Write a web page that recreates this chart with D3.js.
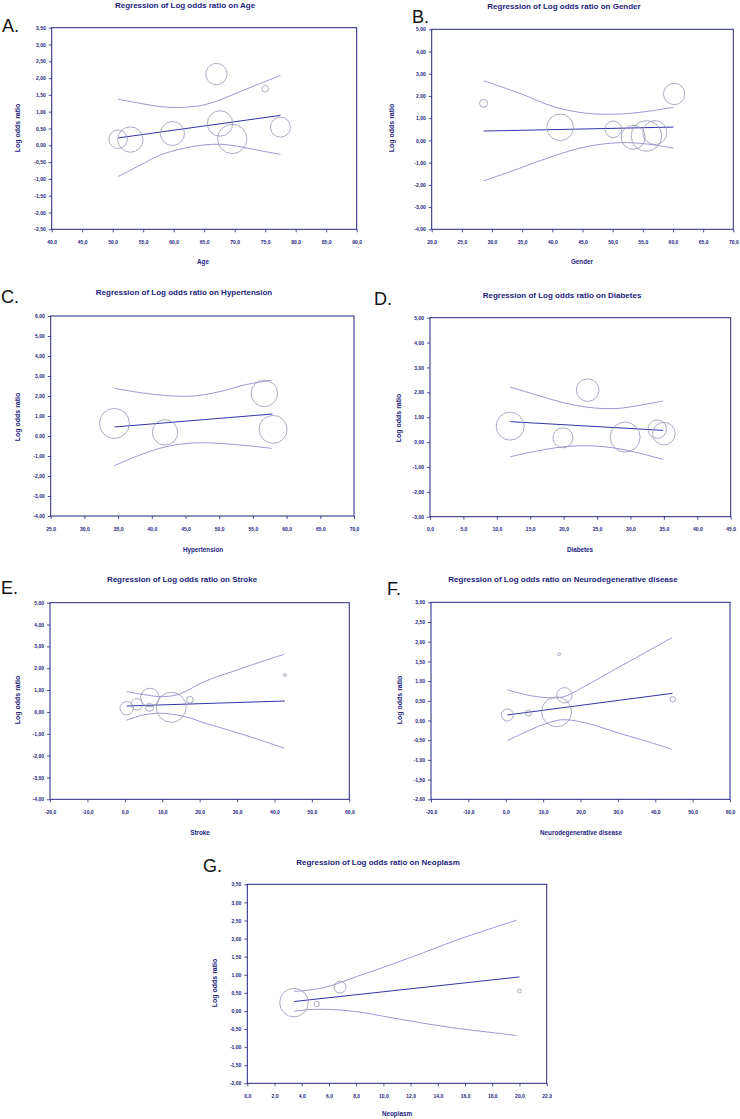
<!DOCTYPE html>
<html><head><meta charset="utf-8">
<script src="https://cdn.jsdelivr.net/npm/d3@7"></script>
<style>body{margin:0;background:#fff}svg{display:block}</style>
</head><body><svg id="c" width="740" height="1119"></svg>
<script>
// ---------- DATA ----------
// A. Age
const ageX = [50.9, 52.9, 59.8, 67.0, 67.6, 69.6, 75.0, 77.5];
const ageY = [0.18, 0.17, 0.35, 2.12, 0.65, 0.19, 1.68, 0.54];
const ageW = [86, 161, 144, 114, 161, 216, 11, 100];
const ageFitX = [50.9, 77.5], ageFitY = [0.22, 0.89];
const ageCiX  = [50.9, 54.5, 57.8, 61.6, 64.9, 67.6, 70.9, 74.2, 77.5];
const ageCiUp = [1.37, 1.25, 1.15, 1.13, 1.20, 1.35, 1.60, 1.84, 2.08];
const ageCiLo = [-0.93, -0.59, -0.29, -0.09, 0.01, 0.03, -0.04, -0.16, -0.27];
const ageXTicks = [40,45,50,55,60,65,70,75,80,85,90];
const ageYTicks = [-2.5,-2,-1.5,-1,-0.5,0,0.5,1,1.5,2,2.5,3,3.5];
// B. Gender
const genX = [28.6, 41.3, 50.1, 53.4, 55.6, 57.0, 60.2];
const genY = [1.67, 0.59, 0.50, 0.14, 0.20, 0.35, 2.09];
const genW = [16, 177, 69, 144, 234, 144, 114];
const genFitX = [28.6, 60.1], genFitY = [0.42, 0.60];
const genCiX  = [28.6, 34.6, 40.2, 45.7, 51.2, 55.6, 60.1];
const genCiUp = [2.68, 2.12, 1.52, 1.22, 1.19, 1.30, 1.49];
const genCiLo = [-1.82, -1.25, -0.70, -0.28, -0.10, -0.16, -0.35];
const genXTicks = [20,25,30,35,40,45,50,55,60,65,70];
const genYTicks = [-4,-3,-2,-1,0,1,2,3,4,5];
// C. Hypertension
const hypX = [34.45, 41.96, 56.7, 58.0];
const hypY = [0.63, 0.18, 2.13, 0.33];
const hypW = [225, 161, 177, 196];
const hypFitX = [34.45, 57.9], hypFitY = [0.45, 1.10];
const hypCiX  = [34.45, 38.25, 42.2, 46.2, 50.1, 54.1, 57.8];
const hypCiUp = [2.38, 2.17, 2.02, 2.00, 2.22, 2.58, 2.78];
const hypCiLo = [-1.48, -0.95, -0.53, -0.35, -0.37, -0.48, -0.62];
const hypXTicks = [25,30,35,40,45,50,55,60,65,70];
const hypYTicks = [-4,-3,-2,-1,0,1,2,3,4,5,6];
// D. Diabetes
const diaX = [12.0, 19.9, 23.6, 29.2, 34.0, 35.0];
const diaY = [0.64, 0.17, 2.09, 0.20, 0.52, 0.34];
const diaW = [196, 100, 128, 225, 86, 128];
const diaFitX = [12.0, 34.9], diaFitY = [0.82, 0.47];
const diaCiX  = [12.0, 16.0, 20.0, 23.9, 27.9, 31.4, 34.9];
const diaCiUp = [2.21, 1.89, 1.58, 1.39, 1.35, 1.48, 1.65];
const diaCiLo = [-0.59, -0.36, -0.19, -0.15, -0.25, -0.45, -0.70];
const diaXTicks = [0,5,10,15,20,25,30,35,40,45];
const diaYTicks = [-3,-2,-1,0,1,2,3,4,5];
// E. Stroke
const strX = [0.5, 3.2, 6.7, 6.6, 12.4, 17.4, 42.8];
const strY = [0.17, 0.35, 0.66, 0.21, 0.21, 0.56, 1.69];
const strW = [45, 32, 86, 16, 225, 11, 2];
const strFitX = [0.5, 42.8], strFitY = [0.27, 0.50];
const strCiX  = [0.5, 4.9, 9.4, 13.9, 17.5, 20.1, 24.5, 29.0, 33.4, 42.6];
const strCiUp = [0.93, 0.80, 0.70, 0.78, 1.05, 1.30, 1.60, 1.86, 2.12, 2.64];
const strCiLo = [-0.38, -0.14, -0.06, -0.14, -0.28, -0.44, -0.67, -0.90, -1.13, -1.66];
const strXTicks = [-20,-10,0,10,20,30,40,50,60];
const strYTicks = [-4,-3,-2,-1,0,1,2,3,4,5];
// F. Neurodegenerative disease
const neuX = [0.43, 6.05, 13.6, 15.7, 14.3, 44.7];
const neuY = [0.14, 0.19, 0.22, 0.64, 1.68, 0.54];
const neuW = [36, 9, 225, 59, 2, 7];
const neuFitX = [0.43, 44.6], neuFitY = [0.14, 0.69];
const neuCiX  = [0.43, 5.6, 10.95, 15.4, 21.7, 30.6, 39.5, 44.4];
const neuCiUp = [0.78, 0.65, 0.58, 0.60, 0.90, 1.37, 1.84, 2.10];
const neuCiLo = [-0.51, -0.28, -0.07, 0.02, -0.07, -0.33, -0.58, -0.73];
const neuXTicks = [-20,-10,0,10,20,30,40,50,60];
const neuYTicks = [-2,-1.5,-1,-0.5,0,0.5,1,1.5,2,2.5,3];
// G. Neoplasm
const neoX = [3.43, 5.1, 6.81, 20.0];
const neoY = [0.23, 0.19, 0.66, 0.55];
const neoW = [204, 7, 36, 4];
const neoFitX = [3.43, 20.0], neoFitY = [0.26, 0.94];
const neoCiX  = [3.43, 4.61, 6.08, 8.04, 10.49, 12.94, 15.39, 17.6, 19.8];
const neoCiUp = [0.54, 0.58, 0.69, 0.95, 1.27, 1.61, 1.96, 2.24, 2.51];
const neoCiLo = [-0.01, 0.04, 0.04, -0.02, -0.18, -0.34, -0.48, -0.58, -0.68];
const neoXTicks = [0,2,4,6,8,10,12,14,16,18,20,22];
const neoYTicks = [-2,-1.5,-1,-0.5,0,0.5,1,1.5,2,2.5,3,3.5];

// ---------- STYLE / LAYOUT ----------
const NAVY = "#23237e", FIT = "#3434a6", CI = "#8c8cd0", CIRC = "#9696b6";
const loc = d3.formatLocale({decimal: ",", thousands: ".", grouping: [3], currency: ["", ""], minus: "-"});
const fmtY = loc.format(".2f"), fmtX = loc.format(".1f");
const rScale = d3.scaleSqrt().domain([0, 225]).range([0, 15]);
const svg = d3.select("#c");
svg.append("rect").attr("width", 740).attr("height", 1119).attr("fill", "#fff");

const panels = [
  {letter:"A.", lx:2, ly:31.5, name:"Age", frame:[51.7,356.7,27.7,229.3], xd:[40,90], yd:[-2.5,3.5],
   tY:8, tX:185, xlX:203, xlY:264, ylX:17, ylY:128,
   px:ageX, py:ageY, pw:ageW, fx:ageFitX, fy:ageFitY, cx:ageCiX, cu:ageCiUp, cl:ageCiLo, xt:ageXTicks, yt:ageYTicks},
  {letter:"B.", lx:412, ly:22.5, name:"Gender", frame:[431.7,733.3,29.3,229.3], xd:[20,70], yd:[-4,5],
   tY:8.5, tX:564, xlX:582, xlY:264, ylX:391, ylY:128,
   px:genX, py:genY, pw:genW, fx:genFitX, fy:genFitY, cx:genCiX, cu:genCiUp, cl:genCiLo, xt:genXTicks, yt:genYTicks},
  {letter:"C.", lx:1, ly:303, name:"Hypertension", frame:[50.7,354,316,516], xd:[25,70], yd:[-4,6],
   tY:295, tX:184, xlX:203, xlY:551.5, ylX:17, ylY:417,
   px:hypX, py:hypY, pw:hypW, fx:hypFitX, fy:hypFitY, cx:hypCiX, cu:hypCiUp, cl:hypCiLo, xt:hypXTicks, yt:hypYTicks},
  {letter:"D.", lx:374, ly:305, name:"Diabetes", frame:[430,730.7,317.7,516.7], xd:[0,45], yd:[-3,5],
   tY:298, tX:562, xlX:580, xlY:551.5, ylX:398, ylY:418,
   px:diaX, py:diaY, pw:diaW, fx:diaFitX, fy:diaFitY, cx:diaCiX, cu:diaCiUp, cl:diaCiLo, xt:diaXTicks, yt:diaYTicks},
  {letter:"E.", lx:1, ly:594, name:"Stroke", frame:[50,349.3,602.7,799.3], xd:[-20,60], yd:[-4,5],
   tY:582, tX:182, xlX:200, xlY:834.5, ylX:17, ylY:700,
   px:strX, py:strY, pw:strW, fx:strFitX, fy:strFitY, cx:strCiX, cu:strCiUp, cl:strCiLo, xt:strXTicks, yt:strYTicks},
  {letter:"F.", lx:387, ly:595, name:"Neurodegenerative disease", frame:[431,730,602.3,799.3], xd:[-20,60], yd:[-2,3],
   tY:582, tX:563, xlX:581, xlY:834.5, ylX:399, ylY:700,
   px:neuX, py:neuY, pw:neuW, fx:neuFitX, fy:neuFitY, cx:neuCiX, cu:neuCiUp, cl:neuCiLo, xt:neuXTicks, yt:neuYTicks},
  {letter:"G.", lx:203, ly:871.5, name:"Neoplasm", frame:[247.3,546.7,884.3,1083.3], xd:[0,22], yd:[-2,3.5],
   tY:865, tX:378, xlX:397, xlY:1116, ylX:214, ylY:983,
   px:neoX, py:neoY, pw:neoW, fx:neoFitX, fy:neoFitY, cx:neoCiX, cu:neoCiUp, cl:neoCiLo, xt:neoXTicks, yt:neoYTicks}
];

panels.forEach(p => {
  const [L, R, T, B] = p.frame;
  const x = d3.scaleLinear().domain(p.xd).range([L, R]);
  const y = d3.scaleLinear().domain(p.yd).range([B, T]);
  const g = svg.append("g");

  const gx = g.append("g").attr("transform", `translate(0,${B})`)
    .call(d3.axisBottom(x).tickValues(p.xt).tickSize(3).tickPadding(8).tickFormat(fmtX));
  const gy = g.append("g").attr("transform", `translate(${L},0)`)
    .call(d3.axisLeft(y).tickValues(p.yt).tickSize(3).tickPadding(3).tickFormat(fmtY));
  [gx, gy].forEach(a => {
    a.select(".domain").remove();
    a.selectAll(".tick line").attr("stroke", NAVY).attr("stroke-width", 0.8);
    a.selectAll(".tick text").attr("fill", NAVY).attr("font-family", "Liberation Sans, Arial, sans-serif")
      .attr("font-size", 5).attr("font-weight", "bold");
  });

  g.append("rect").attr("x", L).attr("y", T).attr("width", R - L).attr("height", B - T)
    .attr("fill", "none").attr("stroke", NAVY).attr("stroke-width", 1);

  const line = d3.line().x(d => x(d[0])).y(d => y(d[1])).curve(d3.curveCatmullRom);
  g.append("path").datum(p.cx.map((v, i) => [v, p.cu[i]])).attr("d", line)
    .attr("fill", "none").attr("stroke", CI).attr("stroke-width", 0.9);
  g.append("path").datum(p.cx.map((v, i) => [v, p.cl[i]])).attr("d", line)
    .attr("fill", "none").attr("stroke", CI).attr("stroke-width", 0.9);
  g.append("line").attr("x1", x(p.fx[0])).attr("x2", x(p.fx[1]))
    .attr("y1", y(p.fy[0])).attr("y2", y(p.fy[1]))
    .attr("stroke", FIT).attr("stroke-width", 1);

  g.selectAll("circle.pt").data(p.px.map((v, i) => ({x: v, y: p.py[i], w: p.pw[i]})))
    .join("circle").attr("class", "pt")
    .attr("cx", d => x(d.x)).attr("cy", d => y(d.y)).attr("r", d => rScale(d.w))
    .attr("fill", "none").attr("stroke", CIRC).attr("stroke-width", 0.8);

  const font = "Liberation Sans, Arial, sans-serif";
  g.append("text").attr("x", p.tX).attr("y", p.tY).attr("text-anchor", "middle")
    .attr("font-family", font).attr("font-weight", "bold").attr("font-size", 8).attr("fill", NAVY)
    .text("Regression of Log odds ratio on " + p.name);
  g.append("text").attr("x", p.xlX).attr("y", p.xlY).attr("text-anchor", "middle")
    .attr("font-family", font).attr("font-weight", "bold").attr("font-size", 6.3).attr("fill", NAVY)
    .text(p.name);
  g.append("text").attr("transform", `translate(${p.ylX + 2.5},${p.ylY}) rotate(-90)`).attr("text-anchor", "middle")
    .attr("font-family", font).attr("font-weight", "bold").attr("font-size", 7).attr("fill", NAVY)
    .text("Log odds ratio");
  g.append("text").attr("x", p.lx).attr("y", p.ly)
    .attr("font-family", "Liberation Sans, Arial, sans-serif").attr("font-size", 18).attr("fill", "#111")
    .text(p.letter);
});
</script></body></html>
